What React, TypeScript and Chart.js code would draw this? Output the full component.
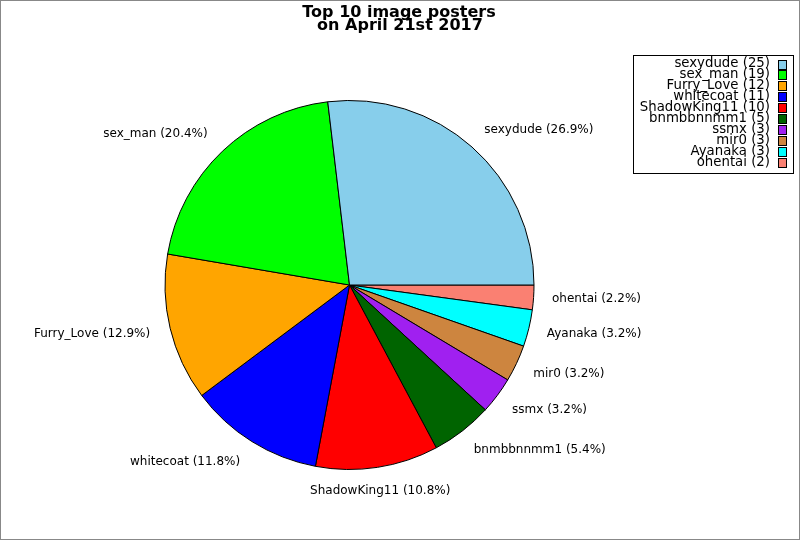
import React, { useRef, useEffect } from "react";
import { Chart, registerables } from "chart.js";

Chart.register(...registerables);

const posters = [
    "sexydude",
    "sex_man",
    "Furry_Love",
    "whitecoat",
    "ShadowKing11",
    "bnmbbnnmm1",
    "ssmx",
    "mir0",
    "Ayanaka",
    "ohentai",
];
const imageCounts = [25, 19, 12, 11, 10, 5, 3, 3, 3, 2];
const sliceColors = [
    "#87CEEB",
    "#00FF00",
    "#FFA500",
    "#0000FF",
    "#FF0000",
    "#006400",
    "#A020F0",
    "#CD853F",
    "#00FFFF",
    "#FA8072",
];
const titleLines = ["Top 10 image posters", "on April 21st 2017"];

const FONT = "'DejaVu Sans', sans-serif";

const total = imageCounts.reduce((a, b) => a + b, 0);
const pct = (v: number) => ((v / total) * 100).toFixed(1) + "%";

// slices go counter-clockwise in the picture, chart.js draws clockwise
const revLabels = [...posters].reverse();
const revCounts = [...imageCounts].reverse();
const revColors = [...sliceColors].reverse();

const decorPlugin = {
    id: "decor",
    afterDraw(chart: any) {
        const ctx = chart.ctx as CanvasRenderingContext2D;
        const meta = chart.getDatasetMeta(0);
        ctx.save();

        // outer frame
        ctx.strokeStyle = "#888";
        ctx.lineWidth = 1;
        ctx.strokeRect(0.5, 0.5, 799, 539);

        // title
        ctx.fillStyle = "#000";
        ctx.font = `bold 16px ${FONT}`;
        ctx.textAlign = "center";
        ctx.textBaseline = "alphabetic";
        ctx.fillText(titleLines[0], 399, 17);
        ctx.fillText(titleLines[1], 400, 30);

        // slice labels
        ctx.font = `12px ${FONT}`;
        ctx.textBaseline = "middle";
        meta.data.forEach((arc: any, i: number) => {
            const mid = (arc.startAngle + arc.endAngle) / 2;
            const r = arc.outerRadius;
            const c = Math.cos(mid);
            const s = Math.sin(mid);
            let x = arc.x + c * r * 1.1;
            const y = arc.y + s * (r * 1.1 + 5);
            if (c < -0.3) x -= 2;
            ctx.textAlign = c > 0.3 ? "left" : c < -0.3 ? "right" : "center";
            ctx.fillText(`${revLabels[i]} (${pct(revCounts[i])})`, x, y);
        });

        // legend
        ctx.strokeStyle = "#000";
        ctx.strokeRect(633.5, 55.5, 160, 118);
        ctx.font = `13.3px ${FONT}`;
        ctx.textAlign = "right";
        posters.forEach((name, i) => {
            const y = 64 + i * 10.9;
            ctx.fillStyle = "#000";
            ctx.fillText(`${name} (${imageCounts[i]})`, 770, y);
            ctx.fillStyle = sliceColors[i];
            ctx.fillRect(778.5, Math.round(y - 4.5) + 0.5, 8, 9);
            ctx.strokeRect(778.5, Math.round(y - 4.5) + 0.5, 8, 9);
        });

        ctx.restore();
    },
};

const PosterPie = () => {
    const chartRef = useRef<HTMLCanvasElement>(null);

    useEffect(() => {
        const ctx = chartRef.current?.getContext("2d");

        if (!ctx) return;

        const myChart = new Chart(ctx, {
            type: "pie",
            data: {
                labels: revLabels,
                datasets: [
                    {
                        data: revCounts,
                        backgroundColor: revColors,
                        borderColor: "#000",
                        borderWidth: 1,
                    },
                ],
            },
            options: {
                responsive: false,
                animation: false,
                rotation: 90,
                layout: {
                    padding: { left: 164, right: 265, top: 100, bottom: 70 },
                },
                plugins: {
                    legend: { display: false },
                    tooltip: { enabled: false },
                },
            },
            plugins: [decorPlugin],
        });

        return () => {
            myChart.destroy();
        };
    }, []);

    return (
        <div style={{ position: "fixed", left: 0, top: 0, width: 800, height: 540, background: "#fff" }}>
            <canvas ref={chartRef} width={800} height={540}></canvas>
        </div>
    );
};

export default function App() {
    return <PosterPie />;
}
